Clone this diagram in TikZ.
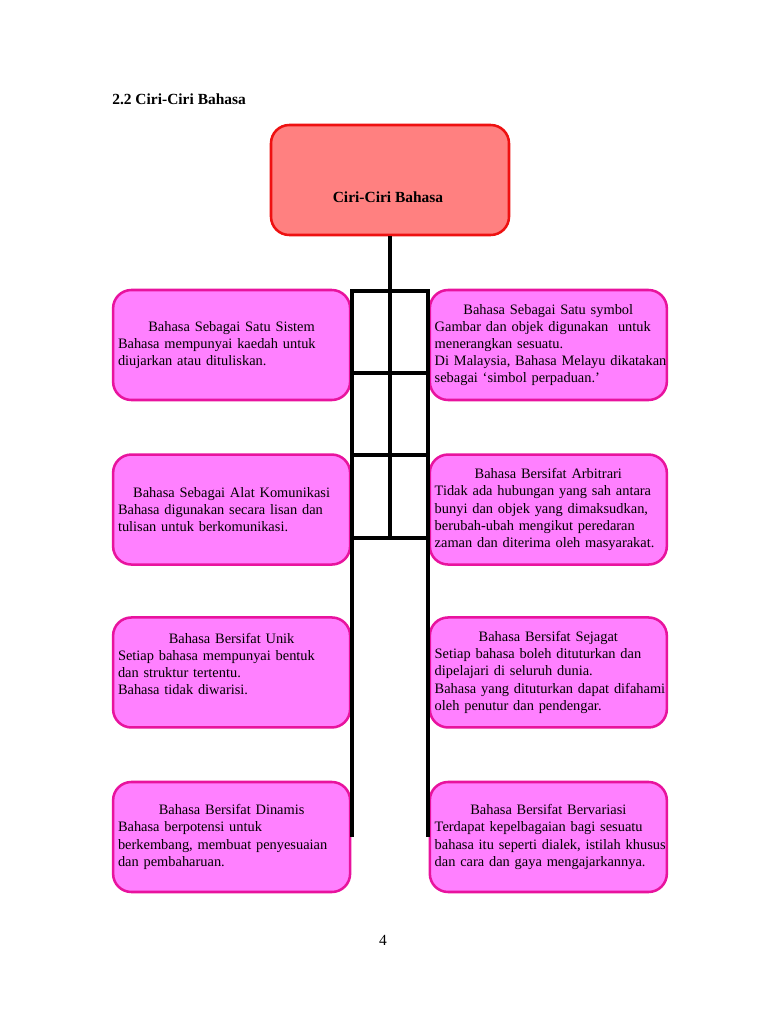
\documentclass[tikz,border=0pt]{standalone}
\usepackage{fontspec}
\setmainfont{Liberation Serif}
\usetikzlibrary{positioning, calc}
\definecolor{Merah}{HTML}{EE1111}
\definecolor{Salmon}{HTML}{FF8080}
\definecolor{Magenta}{HTML}{E8139E}
\definecolor{Pink}{HTML}{FF80FF}
\tikzset{
    utamabox/.style={rectangle, rounded corners=13pt, draw=Merah, fill=Salmon, line width=1.8pt, minimum width=5.95cm, minimum height=2.75cm},
    ciribox/.style={rectangle, rounded corners=13pt, draw=Magenta, fill=Pink, line width=1.8pt, minimum width=5.925cm, minimum height=2.75cm, text width=5.68cm, inner xsep=0.11cm, align=left, font=\fontsize{10.25}{12.2}\selectfont},
    garis/.style={line width=2.2pt, black},
}
\newcommand{\judul}[1]{\makebox[\linewidth]{#1}\\}
\newcommand{\baris}[1]{\makebox[\linewidth][l]{#1}}

\begin{document}
\begin{tikzpicture}
    \useasboundingbox (0,0) rectangle (19.2,-25.6);

    % --- Judul bab ---
    \node[anchor=base west, inner sep=0pt, font=\bfseries\fontsize{11}{13}\selectfont] (bab) at (2.8,-2.6) {2.2 Ciri-Ciri Bahasa};

    % --- Kotak utama ---
    \node[utamabox] (utama) at (9.75,-4.5) {};
    \node[font=\bfseries\fontsize{11}{13}\selectfont] (utamateks) at ([xshift=-0.05cm, yshift=-0.42cm]utama.center) {Ciri-Ciri Bahasa};

    % --- Kotak kiri ---
    \node[ciribox] (sistem) at (5.79,-8.625) {\judul{Bahasa Sebagai Satu Sistem}\baris{Bahasa mempunyai kaedah untuk}\\\baris{diujarkan atau dituliskan.}};
    \node[ciribox, below=1.3cm of sistem] (komunikasi) {\judul{Bahasa Sebagai Alat Komunikasi}\baris{Bahasa digunakan secara lisan dan}\\\baris{tulisan untuk berkomunikasi.}};
    \node[ciribox, below=1.26cm of komunikasi] (unik) {\judul{Bahasa Bersifat Unik}\baris{Setiap bahasa mempunyai bentuk}\\\baris{dan struktur tertentu.}\\\baris{Bahasa tidak diwarisi.}\\\mbox{}};
    \node[ciribox, below=1.3cm of unik] (dinamis) {\judul{Bahasa Bersifat Dinamis}\baris{Bahasa berpotensi untuk}\\\baris{berkembang, membuat penyesuaian}\\\baris{dan pembaharuan.}};

    % --- Kotak kanan ---
    \node[ciribox, right=1.93cm of sistem] (simbol) {\judul{Bahasa Sebagai Satu symbol}\baris{Gambar dan objek digunakan\ \ untuk}\\\baris{menerangkan sesuatu.}\\\baris{Di Malaysia, Bahasa Melayu dikatakan}\\\baris{sebagai `simbol perpaduan.'}};
    \node[ciribox, right=1.93cm of komunikasi] (arbitrari) {\judul{Bahasa Bersifat Arbitrari}\baris{Tidak ada hubungan yang sah antara}\\\baris{bunyi dan objek yang dimaksudkan,}\\\baris{berubah-ubah mengikut peredaran}\\\baris{zaman dan diterima oleh masyarakat.}};
    \node[ciribox, right=1.93cm of unik] (sejagat) {\judul{Bahasa Bersifat Sejagat}\baris{Setiap bahasa boleh dituturkan dan}\\\baris{dipelajari di seluruh dunia.}\\\baris{Bahasa yang dituturkan dapat difahami}\\\baris{oleh penutur dan pendengar.}};
    \node[ciribox, right=1.93cm of dinamis] (bervariasi) {\judul{Bahasa Bersifat Bervariasi}\baris{Terdapat kepelbagaian bagi sesuatu}\\\baris{bahasa itu seperti dialek, istilah khusus}\\\baris{dan cara dan gaya mengajarkannya.}};

    % --- Rangka garis ---
    \foreach \y [count=\i] in {-7.275,-9.325,-11.375,-13.45} {
        \coordinate (ki\i) at (8.8,\y);
        \coordinate (ka\i) at (10.7,\y);
        \draw[garis] (ki\i) -- (ka\i);
    }
    \coordinate (kiribawah) at (8.8,-20.925);
    \coordinate (kananbawah) at (10.7,-20.925);
    \draw[garis] (utama.south) -- (utama.south |- ka4);
    \draw[garis] (kiribawah) -- (ki1) -- (ka1) -- (kananbawah);

    % --- Nombor halaman ---
    \node[font=\fontsize{11}{13}\selectfont] (halaman) at (9.575,-23.5) {4};
\end{tikzpicture}
\end{document}
